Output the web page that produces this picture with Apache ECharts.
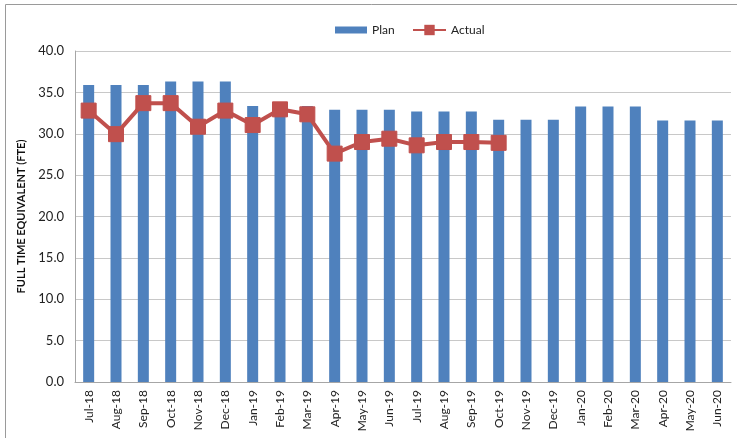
<!DOCTYPE html>
<html>
<head>
<meta charset="utf-8">
<script src="https://cdn.jsdelivr.net/npm/echarts@6/dist/echarts.min.js"></script>
<style>
  html, body { margin: 0; padding: 0; background: #fff; }
  #chart { width: 737px; height: 438px; }
</style>
</head>
<body>
<div id="chart"></div>
<script>
// Monthly staffing: planned vs actual full time equivalents
const months = ['Jul-18','Aug-18','Sep-18','Oct-18','Nov-18','Dec-18','Jan-19','Feb-19','Mar-19','Apr-19','May-19','Jun-19',
                'Jul-19','Aug-19','Sep-19','Oct-19','Nov-19','Dec-19','Jan-20','Feb-20','Mar-20','Apr-20','May-20','Jun-20'];
const plan = [35.9, 35.9, 35.9, 36.3, 36.3, 36.3, 33.35, 33.35, 33.35, 32.9, 32.9, 32.9,
              32.7, 32.7, 32.7, 31.7, 31.7, 31.7, 33.3, 33.3, 33.3, 31.6, 31.6, 31.6];
const actual = [32.8, 29.95, 33.7, 33.7, 30.85, 32.8, 31.05, 32.95, 32.35, 27.6, 29.0, 29.4,
                28.6, 29.0, 29.0, 28.9, null, null, null, null, null, null, null, null];
const yTicks = [0, 5, 10, 15, 20, 25, 30, 35, 40];

const FONT = 'Lato, "Open Sans", sans-serif';
const chart = echarts.init(document.getElementById('chart'), null, { renderer: 'canvas' });

const legendText = { fontSize: 12, color: '#222', fontFamily: FONT };

chart.setOption({
  animation: false,
  textStyle: { fontFamily: FONT },
  graphic: [{
    type: 'rect',
    shape: { x: 5.5, y: 4.5, width: 760, height: 460 },
    style: { fill: 'none', stroke: '#9a9a9a', lineWidth: 1 },
    silent: true
  }],
  legend: [
    {
      left: 330, top: 19,
      itemWidth: 32, itemHeight: 7, itemGap: 4,
      textStyle: legendText,
      data: [{ name: 'Plan', icon: 'rect' }]
    },
    {
      left: 407, top: 19,
      itemWidth: 33, itemHeight: 13, itemGap: 4,
      textStyle: legendText,
      data: [{ name: 'Actual' }]
    }
  ],
  grid: { left: 75, right: 6, top: 51, bottom: 56 },
  xAxis: {
    type: 'category',
    data: months,
    axisLine: { lineStyle: { color: '#a6a6a6' } },
    axisTick: { show: false },
    axisLabel: { rotate: 90, fontSize: 12, color: '#222', margin: 8, interval: 0 }
  },
  yAxis: {
    type: 'value',
    min: yTicks[0],
    max: yTicks[yTicks.length - 1],
    interval: 5,
    name: 'FULL TIME EQUIVALENT (FTE)',
    nameLocation: 'middle',
    nameGap: 48,
    nameTextStyle: { fontSize: 11, fontWeight: 'bold', color: '#111', fontFamily: FONT },
    axisLine: { show: true, lineStyle: { color: '#a6a6a6' } },
    axisTick: { show: false },
    axisLabel: { fontSize: 13, color: '#222', margin: 11, formatter: v => v.toFixed(1) },
    splitLine: { lineStyle: { color: '#c8c8c8' } }
  },
  series: [
    {
      name: 'Plan',
      type: 'bar',
      data: plan,
      barWidth: 11,
      itemStyle: { color: '#4F81BD' }
    },
    {
      name: 'Actual',
      type: 'line',
      data: actual,
      symbol: 'rect',
      symbolSize: 15,
      connectNulls: false,
      lineStyle: { color: '#C0504D', width: 4 },
      itemStyle: { color: '#C0504D', borderColor: '#C0504D' }
    }
  ]
});
</script>
</body>
</html>
